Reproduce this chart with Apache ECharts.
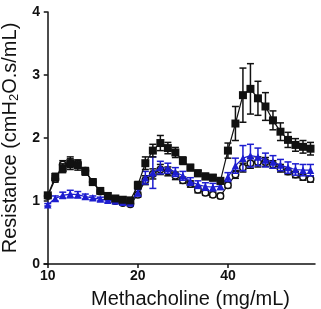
<!DOCTYPE html>
<html>
<head>
<meta charset="utf-8">
<script src="https://cdn.jsdelivr.net/npm/echarts@6/dist/echarts.min.js"></script>
<style>
  html, body { margin: 0; padding: 0; background: #fff; }
  #chart { width: 321px; height: 309px; }
</style>
</head>
<body>
<div id="chart"></div>
<script>
// x positions are point indices, 12 per methacholine dose
var tickPos = [0, 12, 24];
var tickLabels = ['10', '20', '40'];

var blackVals = [1.09, 1.38, 1.52, 1.60, 1.57, 1.47, 1.30, 1.16, 1.08, 1.04, 1.02, 1.01,
                 1.25, 1.60, 1.80, 1.92, 1.84, 1.77, 1.64, 1.53, 1.44, 1.39, 1.37, 1.32,
                 1.80, 2.23, 2.68, 2.78, 2.63, 2.50, 2.28, 2.10, 1.97, 1.89, 1.86, 1.83];
var blackErr = [0.04, 0.06, 0.07, 0.10, 0.08, 0.06, 0.05, 0.04, 0.04, 0.03, 0.03, 0.03,
                0.06, 0.10, 0.10, 0.12, 0.09, 0.08, 0.06, 0.05, 0.05, 0.05, 0.05, 0.05,
                0.12, 0.27, 0.43, 0.40, 0.27, 0.22, 0.15, 0.14, 0.12, 0.10, 0.10, 0.10];

var openVals = [1.08, 1.35, 1.58, 1.60, 1.59, 1.48, 1.30, 1.15, 1.06, 1.00, 0.97, 0.95,
                1.10, 1.33, 1.43, 1.50, 1.47, 1.40, 1.33, 1.27, 1.18, 1.13, 1.10, 1.08,
                1.25, 1.42, 1.53, 1.60, 1.62, 1.62, 1.58, 1.52, 1.47, 1.42, 1.38, 1.35];
var openErr = [0.03, 0.05, 0.06, 0.07, 0.06, 0.05, 0.04, 0.03, 0.03, 0.03, 0.03, 0.03,
               0.04, 0.07, 0.08, 0.08, 0.07, 0.06, 0.05, 0.05, 0.05, 0.04, 0.04, 0.04,
               0.04, 0.06, 0.07, 0.08, 0.08, 0.07, 0.06, 0.06, 0.05, 0.05, 0.05, 0.05];

var blueVals = [0.94, 1.04, 1.09, 1.11, 1.10, 1.07, 1.05, 1.03, 1.01, 1.00, 0.98, 0.97,
                1.13, 1.37, 1.45, 1.53, 1.52, 1.46, 1.40, 1.31, 1.26, 1.23, 1.22, 1.24,
                1.38, 1.56, 1.68, 1.72, 1.70, 1.65, 1.62, 1.57, 1.53, 1.50, 1.49, 1.49];
var blueErr = [0.02, 0.04, 0.05, 0.06, 0.05, 0.04, 0.03, 0.03, 0.03, 0.02, 0.02, 0.02,
               0.05, 0.10, 0.25, 0.10, 0.08, 0.07, 0.07, 0.06, 0.06, 0.06, 0.06, 0.06,
               0.07, 0.12, 0.20, 0.18, 0.14, 0.11, 0.10, 0.09, 0.09, 0.09, 0.09, 0.09];

var BLUE = '#1d1dcf';
var FONT = 'Liberation Sans, Arial, sans-serif';

function pts(vals) {
  return vals.map(function (v, i) { return [i, v]; });
}
function errPts(vals, errs) {
  return vals.map(function (v, i) { return [i, v - errs[i], v + errs[i]]; });
}

// error bar with caps, drawn through the axis scales
function errorBar(color) {
  return function (params, api) {
    var x = api.value(0);
    var lo = api.coord([x, api.value(1)]);
    var hi = api.coord([x, api.value(2)]);
    var w = 3.5;
    var st = { stroke: color, lineWidth: 1.5 };
    return {
      type: 'group',
      children: [
        { type: 'line', shape: { x1: lo[0], y1: lo[1], x2: hi[0], y2: hi[1] }, style: st },
        { type: 'line', shape: { x1: hi[0] - w, y1: hi[1], x2: hi[0] + w, y2: hi[1] }, style: st },
        { type: 'line', shape: { x1: lo[0] - w, y1: lo[1], x2: lo[0] + w, y2: lo[1] }, style: st }
      ]
    };
  };
}

var chart = echarts.init(document.getElementById('chart'));

chart.setOption({
  animation: false,
  grid: { left: 44, top: 12, right: 6, bottom: 45, outerBoundsMode: 'none', containLabel: false },
  xAxis: {
    type: 'value',
    min: -0.5,
    max: 35.6,
    name: 'Methacholine (mg/mL)',
    nameLocation: 'middle',
    nameGap: 25,
    nameTextStyle: { fontFamily: FONT, fontSize: 20, color: '#111', padding: [0, 0, 0, 22] },
    axisLine: { lineStyle: { color: '#111', width: 1.5 } },
    axisTick: { customValues: tickPos, length: 4, lineStyle: { color: '#111', width: 1.5 } },
    axisLabel: {
      customValues: tickPos,
      formatter: function (v) { return tickLabels[tickPos.indexOf(v)]; },
      fontFamily: FONT, fontSize: 14, fontWeight: 'bold', color: '#111', margin: 5
    },
    splitLine: { show: false }
  },
  yAxis: {
    type: 'value',
    min: 0,
    max: 4,
    interval: 1,
    name: '{a|Resistance (cmH}{s|2}{a|O.s/mL)}',
    nameLocation: 'middle',
    nameGap: 22,
    nameRotate: 90,
    nameTextStyle: {
      fontFamily: FONT, color: '#111',
      rich: {
        a: { fontFamily: FONT, fontSize: 20, color: '#111', lineHeight: 22 },
        s: { fontFamily: FONT, fontSize: 13, color: '#111', lineHeight: 22, padding: [8, 0, 0, 0] }
      }
    },
    axisLine: { show: true, lineStyle: { color: '#111', width: 1.5 } },
    axisTick: { show: true, length: 4, lineStyle: { color: '#111', width: 1.5 } },
    axisLabel: { fontFamily: FONT, fontSize: 14, fontWeight: 'bold', color: '#111', margin: 4 },
    splitLine: { show: false }
  },
  series: [
    {
      type: 'custom', renderItem: errorBar('#111'), data: errPts(openVals, openErr),
      encode: { x: 0, y: [1, 2] }, z: 2
    },
    {
      type: 'line', data: pts(openVals), symbol: 'circle', symbolSize: 6.5, showAllSymbol: true,
      lineStyle: { color: '#111', width: 1.2 },
      itemStyle: { color: '#fff', borderColor: '#111', borderWidth: 1.5 }, z: 3
    },
    {
      type: 'custom', renderItem: errorBar(BLUE), data: errPts(blueVals, blueErr),
      encode: { x: 0, y: [1, 2] }, z: 4
    },
    {
      type: 'line', data: pts(blueVals), symbol: 'triangle', symbolSize: 7.5,
      lineStyle: { color: BLUE, width: 1.2 }, itemStyle: { color: BLUE }, z: 5
    },
    {
      type: 'custom', renderItem: errorBar('#111'), data: errPts(blackVals, blackErr),
      encode: { x: 0, y: [1, 2] }, z: 6
    },
    {
      type: 'line', data: pts(blackVals), symbol: 'rect', symbolSize: 8,
      lineStyle: { color: '#111', width: 1.2 }, itemStyle: { color: '#111' }, z: 7
    }
  ]
});
</script>
</body>
</html>
